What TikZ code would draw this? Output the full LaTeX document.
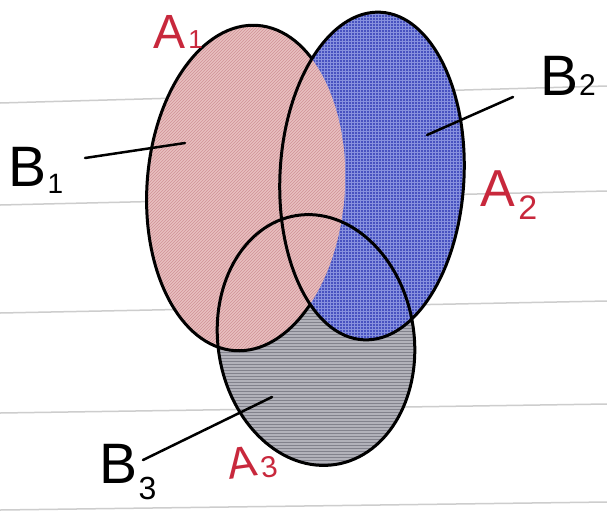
\documentclass[tikz,border=0pt]{standalone}
\usepackage{fontspec}
\setmainfont{Liberation Sans}
\usetikzlibrary{patterns}
\definecolor{pinkfill}{RGB}{232,192,192}
\definecolor{pinkhatch}{RGB}{208,145,150}
\definecolor{bluefill}{RGB}{72,82,192}
\definecolor{bluehatch}{RGB}{135,145,222}
\definecolor{grayfill}{RGB}{178,178,186}
\definecolor{grayhatch}{RGB}{130,130,140}
\definecolor{labelred}{RGB}{200,40,60}
\definecolor{ruled}{RGB}{205,205,205}
\begin{document}
\begin{tikzpicture}[x=1pt,y=-1pt,
  outline/.style={line width=3pt, black},
  leader/.style={line width=2.5pt, black, line cap=round},
  blabel/.style={font=\fontsize{57}{57}\selectfont, inner sep=0pt},
  alabel/.style={font=\fontsize{52}{52}\selectfont, text=labelred, inner sep=0pt},
  ruleline/.style={ruled, line width=1.5pt}]
\def\EA{(246,188) ellipse [x radius=99, y radius=163, rotate=-4]}
\def\EB{(372,176) ellipse [x radius=92, y radius=164, rotate=-3]}
\def\EC{(316,340) ellipse [x radius=98, y radius=126, rotate=9]}
% paper
\fill[white] (0,0) rectangle (607,512);
\useasboundingbox (0,0) rectangle (607,512);
\draw[ruleline] (0,103) -- (607,86);
\draw[ruleline] (0,205) -- (607,191);
\draw[ruleline] (0,313) -- (607,301);
\draw[ruleline] (0,413) -- (607,404);
\draw[ruleline] (0,510) -- (607,502);
% regions
\fill[grayfill] \EC;
\fill[pattern=horizontal lines, pattern color=grayhatch] \EC;
\fill[pinkfill] \EA;
\fill[pattern=north east lines, pattern color=pinkhatch] \EA;
\begin{scope}
  \clip \EB;
  \fill[bluefill, even odd rule] (-10,-10) rectangle (620,520) \EA;
  \fill[pattern=grid, pattern color=bluehatch, even odd rule] (-10,-10) rectangle (620,520) \EA;
\end{scope}
% outlines
\draw[outline] \EB;
\draw[outline] \EC;
\begin{scope}[even odd rule]
  \clip (-10,-10) rectangle (620,520) \EB;
  \draw[outline] \EA;
\end{scope}
% labels
\node[blabel] (b1) at (36,170) {B\kern1pt\raisebox{-0.12em}{\fontsize{28}{28}\selectfont 1}};
\node[blabel] (b2) at (568,76) {B\kern1pt{\fontsize{30}{30}\selectfont 2}};
\node[blabel] (b3) at (128,472) {B\kern1pt\raisebox{-0.28em}{\fontsize{32}{32}\selectfont 3}};
\node[alabel, font=\fontsize{48}{48}\selectfont] (a1) at (178,32) {A\kern3pt{\fontsize{26}{26}\selectfont 1}};
\node[alabel] (a2) at (509,195) {A\kern3pt\raisebox{-0.25em}{\fontsize{34}{34}\selectfont 2}};
\node[alabel, font=\fontsize{44}{44}\selectfont, rotate=8] (a3) at (252,463) {A\kern3pt\raisebox{-0.1em}{\fontsize{30}{30}\selectfont 3}};
% leaders
\coordinate (b1s) at (85,158);
\coordinate (b1e) at (185,143);
\coordinate (b2s) at (513,97);
\coordinate (b2e) at (427,135);
\coordinate (b3s) at (143,460);
\coordinate (b3e) at (272,397);
\draw[leader] (b1s) -- (b1e);
\draw[leader] (b2s) -- (b2e);
\draw[leader] (b3s) -- (b3e);
\end{tikzpicture}
\end{document}
